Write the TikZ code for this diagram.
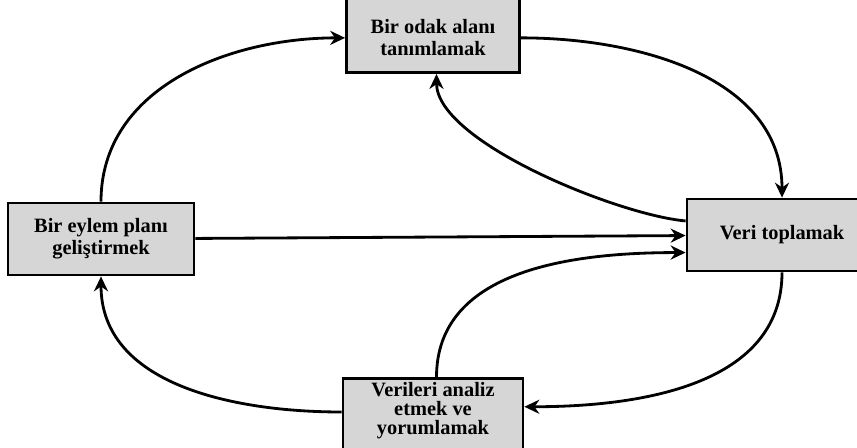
\documentclass[tikz,border=0pt]{standalone}
\usepackage{fontspec}
\setmainfont{Liberation Serif}
\usetikzlibrary{arrows.meta, positioning}

\begin{document}
\begin{tikzpicture}[
    x=0.02cm, y=-0.02cm,
    block/.style={rectangle, draw=black, fill=black!16, line width=1.6pt, align=center, font=\bfseries\fontsize{11.6}{12.5}\selectfont, minimum height=1.44cm, inner sep=2pt},
    arrow/.style={-{Stealth[length=8.5pt, width=8pt]}, line width=1.6pt, draw=black}
]
    \useasboundingbox (0,0) rectangle (857,448);
    \node[block, minimum width=3.46cm, minimum height=1.6cm, anchor=south] (odak) at (433,74) {\rule{0pt}{14pt}Bir odak alanı\\ tanımlamak};
    \node[block, minimum width=3.72cm] (plan) at (101,239) {Bir eylem planı\\ geliştirmek};
    \node[block, minimum width=3.8cm] (veri) at (782,235) {Veri toplamak};
    \node[block, minimum width=3.6cm, minimum height=1.6cm, anchor=north, font=\bfseries\fontsize{11.6}{10.8}\selectfont] (analiz) at (433,377) {Verileri analiz\\ etmek ve\\ yorumlamak\rule[-12pt]{0pt}{1pt}};

    \draw[arrow] (plan.north) to[out=90, in=180] ([yshift=-3pt]odak.west);
    \draw[arrow] ([yshift=-3pt]odak.east) to[out=0, in=90] (veri.north);
    \draw[arrow] ([yshift=8pt]veri.west) to[out=175, in=-90, looseness=0.6] ([xshift=2pt]odak.south);
    \draw[arrow] (plan) -- (veri);
    \draw[arrow] ([xshift=2pt]analiz.north) to[out=90, in=180] ([yshift=-10pt]veri.west);
    \draw[arrow] (veri.south) to[out=-90, in=0] ([yshift=-1pt]analiz.east |- 0,405);
    \draw[arrow] (analiz.west |- 0,412) to[out=180, in=-90] (plan.south);
\end{tikzpicture}
\end{document}
